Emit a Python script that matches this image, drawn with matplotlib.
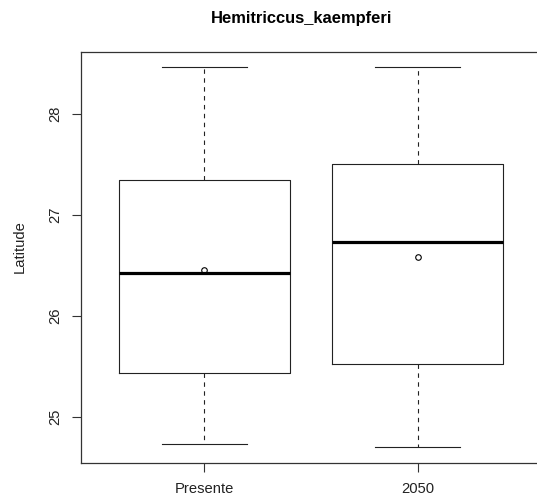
import matplotlib
matplotlib.use("Agg")
import matplotlib.pyplot as plt

# Data
categories = ["Presente", "2050"]
whisker_low = [24.73, 24.70]
q1 = [25.44, 25.53]
median = [26.43, 26.73]
mean = [26.46, 26.59]
q3 = [27.35, 27.51]
whisker_high = [28.47, 28.47]
y_ticks = [25, 26, 27, 28]

plt.rcParams['font.family'] = ['Liberation Sans', 'DejaVu Sans']

W, H = 537, 503
fig = plt.figure(figsize=(W / 100, H / 100), dpi=100)
left_px, right_px, top_px, bottom_px = 80.7, 541.4, 52.0, 462.7
ax = fig.add_axes([left_px / W, 1 - bottom_px / H,
                   (right_px - left_px) / W, (bottom_px - top_px) / H])

stats = []
for i, c in enumerate(categories):
    stats.append(dict(label=c, med=median[i], q1=q1[i], q3=q3[i],
                      whislo=whisker_low[i], whishi=whisker_high[i],
                      mean=mean[i], fliers=[]))

lw = 0.8
ax.bxp(stats, positions=[1, 2], widths=0.8, showmeans=True, patch_artist=False,
       boxprops=dict(color='#222222', linewidth=lw),
       whiskerprops=dict(color='#222222', linewidth=lw, linestyle=(0, (4, 4))),
       capprops=dict(color='#222222', linewidth=lw),
       capwidths=0.4,
       medianprops=dict(color='black', linewidth=2.3, solid_capstyle='butt'),
       meanprops=dict(marker='o', markerfacecolor='none', markeredgecolor='black',
                      markersize=4, markeredgewidth=0.8))

ax.set_xlim(0.42, 2.58)
ax.set_ylim(24.547, 28.617)
ax.set_xticks([1, 2])
ax.set_xticklabels(categories, fontsize=10.6, color='#222222')
ax.set_yticks(y_ticks)
ax.set_yticklabels([str(t) for t in y_ticks], fontsize=10.6, rotation=90,
                   va='center', color='#222222')
ax.tick_params(axis='both', length=6.5, width=0.8, color='#333333')
ax.tick_params(axis='x', pad=7.5)
ax.tick_params(axis='y', pad=6.5)
for s in ax.spines.values():
    s.set_linewidth(0.9)
    s.set_color('#333333')

fig.text(20 / W, 1 - 247 / H, "Latitude", rotation=90, ha='center', va='center',
         fontsize=10.6, color='#222222')
fig.text(302 / W, 1 - 18 / H, "Hemitriccus_kaempferi", ha='center', va='center',
         fontsize=11.9, fontweight='bold', color='black')

fig.savefig("out.png", dpi=100)
